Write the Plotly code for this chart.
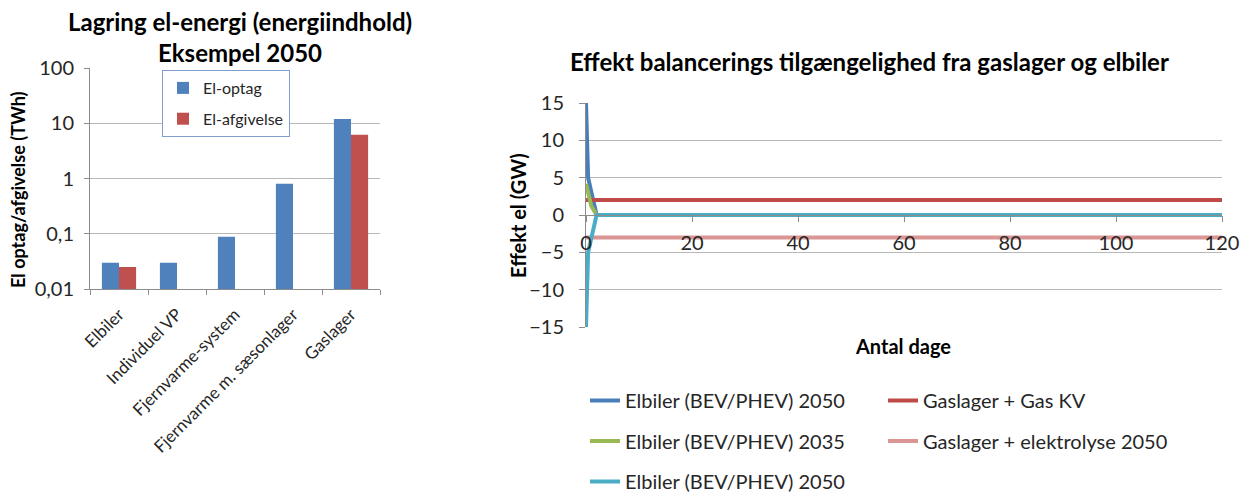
import plotly.graph_objects as go

W, H = 1242, 493

# --- Left chart: stored electricity per storage type (TWh, log scale) ---
categories = ["Elbiler", "Individuel VP", "Fjernvarme-system",
              "Fjernvarme m. sæsonlager", "Gaslager"]
el_optag = [0.03, 0.03, 0.088, 0.8, 12.0]
el_afgivelse = [0.025, None, None, None, 6.2]
log_ticks = [0.01, 0.1, 1, 10, 100]
log_tick_text = ["0,01", "0,1", "1", "10", "100"]

# --- Right chart: balancing power over days ---
days = [0, 0.4, 1, 2, 120]
elbiler_2050_up = [15, 5, 3.1, 0, 0]
elbiler_2035 = [4.2, 2.9, 1.2, 0, 0]
elbiler_2050_down = [-15, -5, -3.1, 0, 0]
gas_days = [0, 120]
gaslager_gas_kv = [2, 2]
gaslager_elektrolyse = [-3, -3]
day_ticks = [0, 20, 40, 60, 80, 100, 120]
gw_ticks = [-15, -10, -5, 0, 5, 10, 15]

FONT = "Lato"
TXT = "#262626"
GRID = "#B8B8B8"
AXIS = "#8C8C8C"


def px_x(p):
    return p / W


def px_y(p):
    return 1 - p / H


fig = go.Figure()

fig.add_trace(go.Bar(x=categories, y=el_optag, name="El-optag",
                     marker=dict(color="#4F81BD", line=dict(width=0)),
                     xaxis="x", yaxis="y", legend="legend",
                     legendgroup="a"))
fig.add_trace(go.Bar(x=categories, y=el_afgivelse, name="El-afgivelse",
                     marker=dict(color="#C0504D", line=dict(width=0)),
                     xaxis="x", yaxis="y", legend="legend",
                     legendgroup="b"))

line_w = 4
fig.add_trace(go.Scatter(x=days, y=elbiler_2050_up, mode="lines",
                         name="Elbiler (BEV/PHEV) 2050",
                         line=dict(color="#4A7EBB", width=line_w),
                         xaxis="x2", yaxis="y2", legend="legend2",
                         legendgroup="c"))
fig.add_trace(go.Scatter(x=gas_days, y=gaslager_gas_kv, mode="lines",
                         name="Gaslager + Gas KV",
                         line=dict(color="#BE4B48", width=line_w),
                         xaxis="x2", yaxis="y2", legend="legend3",
                         legendgroup="d"))
fig.add_trace(go.Scatter(x=days, y=elbiler_2035, mode="lines",
                         name="Elbiler (BEV/PHEV) 2035",
                         line=dict(color="#98B954", width=line_w),
                         xaxis="x2", yaxis="y2", legend="legend2",
                         legendgroup="e"))
fig.add_trace(go.Scatter(x=gas_days, y=gaslager_elektrolyse, mode="lines",
                         name="Gaslager + elektrolyse 2050",
                         line=dict(color="#DA9694", width=line_w),
                         xaxis="x2", yaxis="y2", legend="legend3",
                         legendgroup="f"))
fig.add_trace(go.Scatter(x=days, y=elbiler_2050_down, mode="lines",
                         name="Elbiler (BEV/PHEV) 2050",
                         line=dict(color="#4BACC6", width=line_w),
                         xaxis="x2", yaxis="y2", legend="legend2",
                         legendgroup="g"))

y2_dom = [px_y(327), px_y(103)]

fig.update_layout(
    width=W, height=H,
    margin=dict(l=0, r=0, t=0, b=0, autoexpand=False),
    paper_bgcolor="white", plot_bgcolor="white",
    font=dict(family=FONT, color=TXT, size=16),
    barmode="group", bargap=0.41, bargroupgap=0,
    xaxis=dict(domain=[px_x(90), px_x(380)], anchor="y",
               type="category", tickson="boundaries",
               ticks="outside", ticklen=5, tickcolor=AXIS,
               showline=True, linecolor=AXIS, linewidth=1,
               showgrid=False, tickangle=-45, ticklabelstandoff=8,
               tickfont=dict(size=17, color=TXT)),
    yaxis=dict(domain=[px_y(289), px_y(68)], anchor="x",
               type="log", range=[-2, 2],
               tickvals=log_ticks, ticktext=log_tick_text,
               ticks="outside", ticklen=5, tickcolor=AXIS,
               showline=True, linecolor=AXIS, linewidth=1,
               showgrid=True, gridcolor=GRID, gridwidth=1,
               ticklabelstandoff=6,
               tickfont=dict(size=20, color=TXT)),
    xaxis2=dict(domain=[px_x(586), px_x(1222)], anchor="free",
                position=(y2_dom[0] + y2_dom[1]) / 2,
                range=[0, 120], tickvals=day_ticks,
                ticks="outside", ticklen=6, tickcolor=AXIS,
                showline=True, linecolor=AXIS, linewidth=1,
                showgrid=False, zeroline=False,
                ticklabelstandoff=4,
                tickfont=dict(size=20, color=TXT)),
    yaxis2=dict(domain=y2_dom, anchor="x2",
                range=[-15, 15], tickvals=gw_ticks,
                ticks="outside", ticklen=6, tickcolor=AXIS,
                showline=True, linecolor=AXIS, linewidth=1,
                showgrid=True, gridcolor=GRID, gridwidth=1,
                zeroline=False, ticklabelstandoff=11,
                tickfont=dict(size=20, color=TXT)),
    legend=dict(x=px_x(162), y=px_y(70), xanchor="left", yanchor="top",
                bgcolor="white", bordercolor="#7F9FCF", borderwidth=1,
                font=dict(size=16, color=TXT), itemwidth=30,
                traceorder="grouped", tracegroupgap=7),
    legend2=dict(x=px_x(585), y=px_y(381), xanchor="left", yanchor="top",
                 bgcolor="rgba(0,0,0,0)", borderwidth=0,
                 font=dict(size=20, color=TXT), itemwidth=30,
                 traceorder="grouped", tracegroupgap=11.5),
    legend3=dict(x=px_x(883), y=px_y(381), xanchor="left", yanchor="top",
                 bgcolor="rgba(0,0,0,0)", borderwidth=0,
                 font=dict(size=20, color=TXT), itemwidth=30,
                 traceorder="grouped", tracegroupgap=11.5),
    showlegend=True,
)

annotations = [
    dict(text="<b>Lagring el-energi (energiindhold)</b>",
         x=px_x(240), y=px_y(22), font=dict(size=24, color="black")),
    dict(text="<b>Eksempel 2050</b>",
         x=px_x(240), y=px_y(52), font=dict(size=24, color="black")),
    dict(text="<b>El optag/afgivelse (TWh)</b>", textangle=-90,
         x=px_x(18), y=px_y(190), font=dict(size=18, color="black")),
    dict(text="<b>Effekt balancerings tilgængelighed fra gaslager og elbiler</b>",
         x=px_x(869), y=px_y(62), font=dict(size=24, color="black")),
    dict(text="<b>Effekt el (GW)</b>", textangle=-90,
         x=px_x(518), y=px_y(216), font=dict(size=20, color="black")),
    dict(text="<b>Antal dage</b>",
         x=px_x(903), y=px_y(346), font=dict(size=20, color="black")),
]
for a in annotations:
    a.update(xref="paper", yref="paper", showarrow=False,
             xanchor="center", yanchor="middle")
fig.update_layout(annotations=annotations)

fig.write_html("out.html")
